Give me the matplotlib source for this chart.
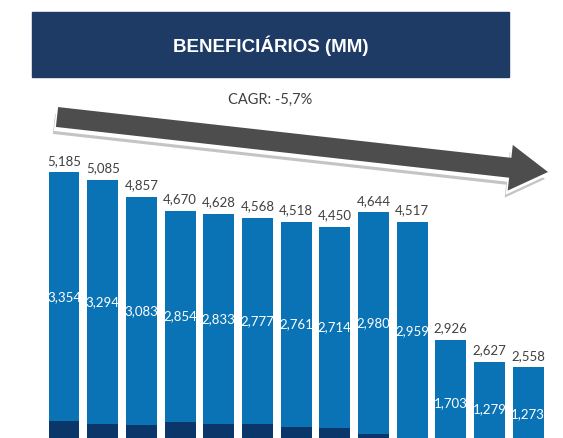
import numpy as np
import matplotlib
matplotlib.use("Agg")
import matplotlib.pyplot as plt
from matplotlib.patches import FancyArrow, Rectangle

# Beneficiários (MM): total e parcela do meio (rótulo branco)
totais = [5.185, 5.085, 4.857, 4.670, 4.628, 4.568, 4.518, 4.450, 4.644, 4.517, 2.926, 2.627, 2.558]
meio = [3.354, 3.294, 3.083, 2.854, 2.833, 2.777, 2.761, 2.714, 2.980, 2.959, 1.703, 1.279, 1.273]
titulo = "BENEFICIÁRIOS (MM)"
cagr = "CAGR: -5,7%"

azul = "#0a73b5"
azul_escuro = "#0b3669"
navy = "#1e3b66"

def fmt(v):
    return f"{v:.3f}".replace(".", ",")

fig = plt.figure(figsize=(5.63, 4.38), dpi=100)
fig.patch.set_facecolor("white")

# eixo das barras (cortado embaixo, como na imagem)
ax = fig.add_axes([0, 0, 1, 1])
x = np.arange(len(totais))
base = [t - m for t, m in zip(totais, meio)]
ax.bar(x, base, width=0.8, color=azul_escuro)
ax.bar(x, meio, bottom=base, width=0.8, color=azul)
for xi, t, m, b in zip(x, totais, meio, base):
    ax.annotate(fmt(t), (xi, t), xytext=(0, 4), textcoords="offset points",
                ha="center", va="bottom", fontsize=9.5, color="#404040", family="Lato")
    ax.text(xi, b + m / 2, fmt(m), ha="center", va="center", fontsize=9.5,
            color="white", family="Lato")
ax.set_xlim(-1.655, 12.90)
ax.set_ylim(1.604, 7.507)
ax.axis("off")

# camada de decoração em pixels
deco = fig.add_axes([0, 0, 1, 1], zorder=5)
deco.set_xlim(0, 563)
deco.set_ylim(438, 0)
deco.axis("off")
deco.patch.set_alpha(0)

deco.add_patch(Rectangle((32, 12), 477, 65, color=navy))
deco.text(271, 46, titulo, ha="center", va="center", color="white",
          fontsize=13.5, fontweight="bold", family="Liberation Sans")
deco.text(270, 100, cagr, ha="center", va="center", color="#404040",
          fontsize=10.5, family="Lato")

x0, y0, x1, y1 = 57, 117, 548, 172
for dx, dy, cor in [(-3, 7, "#c4c4c4"), (-2, 4, "white"), (0, 0, "#4d4d4d")]:
    deco.add_patch(FancyArrow(x0 + dx, y0 + dy, x1 - x0, y1 - y0, width=20,
                              head_width=46, head_length=38,
                              length_includes_head=True, color=cor, lw=0))

fig.savefig("out.png", dpi=100)
